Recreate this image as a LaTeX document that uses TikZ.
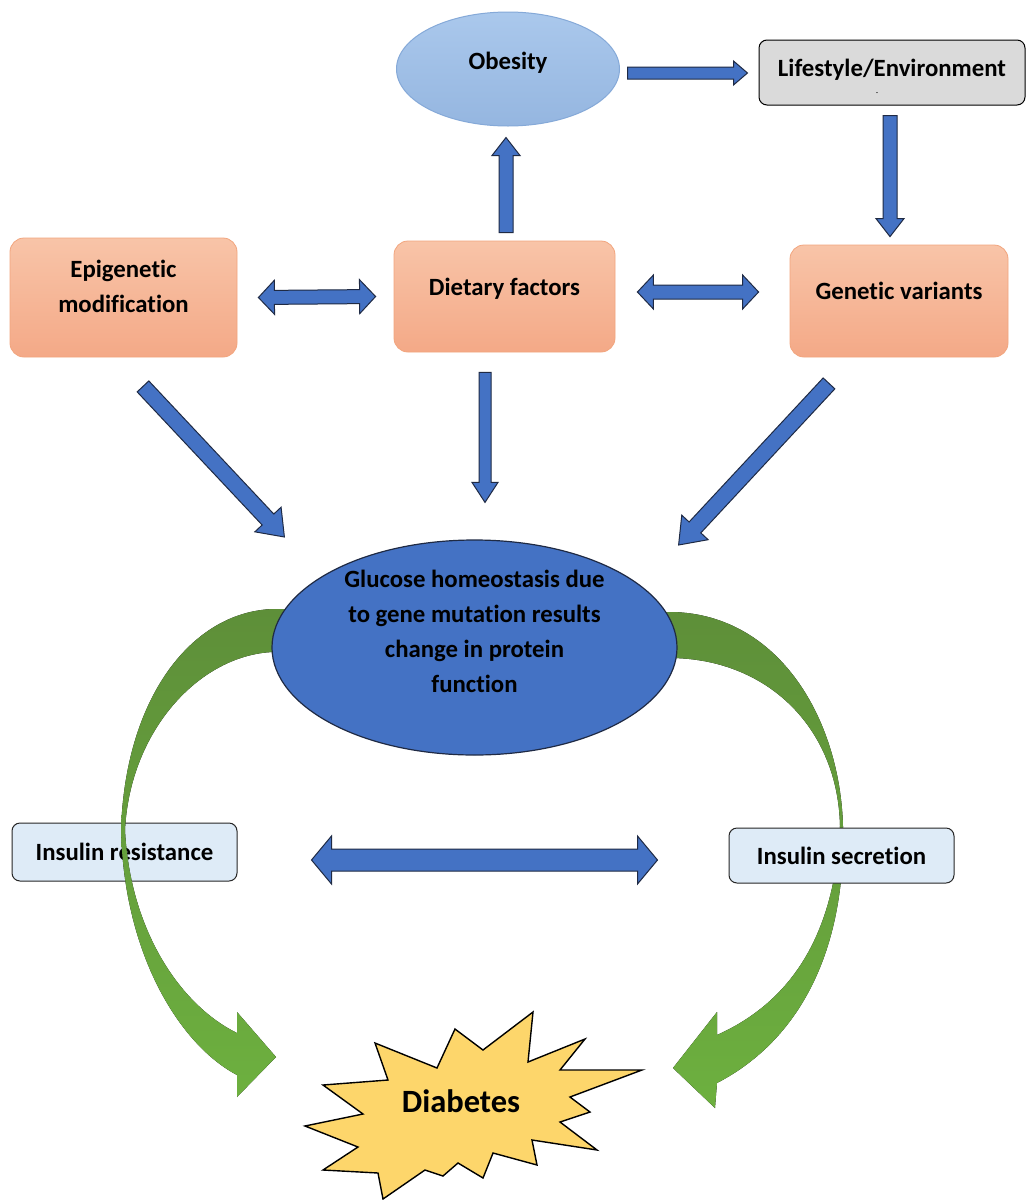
\documentclass[tikz,border=0pt]{standalone}
\usepackage{fontspec}
\setmainfont{Carlito}[Ligatures=NoCommon]
\usetikzlibrary{calc, shapes.geometric}
\definecolor{arblue}{HTML}{4472C4}
\definecolor{arline}{HTML}{1F2A44}
\definecolor{obtop}{HTML}{AAC8EC}
\definecolor{obbot}{HTML}{95B6E0}
\definecolor{obline}{HTML}{85A9D8}
\definecolor{lifefill}{HTML}{DADADA}
\definecolor{salmontop}{HTML}{F8C4A8}
\definecolor{salmonbot}{HTML}{F4A987}
\definecolor{salmonline}{HTML}{F2A57E}
\definecolor{insfill}{HTML}{DEEBF7}
\definecolor{greentop}{HTML}{5E8F39}
\definecolor{greenbot}{HTML}{6DB03F}
\definecolor{starfill}{HTML}{FDD66B}
\pgfdeclarelayer{bg}
\pgfsetlayers{bg,main}

\newcommand{\liftup}[2]{\raisebox{0pt}[\dimexpr\height-#1\relax][\dimexpr\depth+#1\relax]{\begin{tabular}{@{}c@{}}#2\end{tabular}}}

\newcommand{\blockar}[5]{%
  \coordinate (ba0) at #1; \coordinate (ba1) at #2;
  \coordinate (bah) at ($(ba1)!#5!(ba0)$);
  \filldraw[bluear] ($(ba0)!#3!90:(ba1)$) -- ($(bah)!#3!90:(ba1)$) -- ($(bah)!#4!90:(ba1)$) -- (ba1)
    -- ($(bah)!#4!-90:(ba1)$) -- ($(bah)!#3!-90:(ba1)$) -- ($(ba0)!#3!-90:(ba1)$) -- cycle;}

\newcommand{\dblar}[5]{%
  \coordinate (ba0) at #1; \coordinate (ba1) at #2;
  \coordinate (bh0) at ($(ba0)!#5!(ba1)$); \coordinate (bh1) at ($(ba1)!#5!(ba0)$);
  \filldraw[bluear] (ba0) -- ($(bh0)!#4!90:(ba1)$) -- ($(bh0)!#3!90:(ba1)$) -- ($(bh1)!#3!-90:(ba0)$)
    -- ($(bh1)!#4!-90:(ba0)$) -- (ba1) -- ($(bh1)!#4!90:(ba0)$) -- ($(bh1)!#3!90:(ba0)$)
    -- ($(bh0)!#3!-90:(ba1)$) -- ($(bh0)!#4!-90:(ba1)$) -- cycle;}

\begin{document}
\begin{tikzpicture}[x=1pt, y=-1pt,
    font=\bfseries\fontsize{24.8}{35}\selectfont,
    bluear/.style={fill=arblue, draw=arline, line width=1pt, line join=miter},
    factor/.style={draw=salmonline, line width=0.8pt, top color=salmontop, bottom color=salmonbot, rounded corners=14pt, inner sep=0pt},
    insbox/.style={draw=black!85, line width=1pt, fill=insfill, rounded corners=8pt, inner sep=0pt, minimum width=225pt},
    greenar/.style={top color=greentop, bottom color=greenbot, draw=none},
    burst/.style={fill=starfill, draw=black, line width=1.4pt, line join=miter}
  ]
    \useasboundingbox (0,0) rectangle (1026,1200);
    \node[ellipse, draw=obline, line width=1pt, top color=obtop, bottom color=obbot, minimum width=223pt, minimum height=114pt, inner sep=0pt] (ob) at (508,69) {\liftup{7pt}{Obesity}};
    \node[draw=black, line width=1pt, fill=lifefill, rounded corners=8pt, minimum width=266pt, minimum height=65pt, inner sep=0pt] (life) at (892,72.5) {\liftup{3pt}{Lifestyle/Environment}};
    \node[font=\fontsize{8}{8}\selectfont, inner sep=0pt] (lifedash) at ($(life.center)+(-15,22)$) {-};
    \node[factor, minimum width=227pt, minimum height=119pt] (epi) at (123.5,297.5) {\liftup{10pt}{Epigenetic\\modification}};
    \node[factor, minimum width=221pt, minimum height=111pt] (diet) at (504.5,296.5) {\liftup{8pt}{Dietary factors}};
    \node[factor, minimum width=218pt, minimum height=112pt] (gen) at (899,301) {\liftup{9pt}{Genetic variants}};
    \node[ellipse, fill=arblue, draw=arline, line width=1.2pt, minimum width=405pt, minimum height=215pt, inner sep=0pt] (glu) at (474.5,647.5) {\liftup{15pt}{Glucose homeostasis due\\to gene mutation results\\change in protein\\function}};
    \node[insbox, minimum height=55pt] (isec) at (841.5,855.5) {Insulin secretion};
    \begin{pgfonlayer}{bg}
      \fill[white] (0,0) rectangle (1026,1200);
      \node[insbox, minimum height=58pt] (ires) at (124.5,852) {Insulin resistance};
      \fill[greenar] (285,609) -- (273,609) .. controls (190,612) and (125,700) .. (121,830)
        .. controls (124,955) and (180,1045) .. (237,1075) -- (237,1097) -- (276,1057) -- (237,1012) -- (237,1033)
        .. controls (180,1005) and (130,930) .. (125,830) .. controls (130,730) and (200,655) .. (273,652) -- (285,652) -- cycle;
      \fill[greenar] (663,612) -- (673,612) .. controls (780,615) and (840,720) .. (843,826)
        .. controls (846,950) and (800,1040) .. (717,1083) -- (715,1108) -- (673,1068) -- (717,1012) -- (717,1035)
        .. controls (795,1000) and (835,930) .. (840,826) .. controls (838,730) and (770,660) .. (673,658) -- (663,658) -- cycle;
    \end{pgfonlayer}
    \blockar{($(ob.east)+(7.5,4)$)}{($(life.west)+(-11,0.5)$)}{6pt}{12pt}{14pt}
    \blockar{($(life.south)+(-2,10)$)}{($(gen.north)+(-9,-8)$)}{7pt}{14pt}{18pt}
    \blockar{($(diet.north)+(1.5,-8)$)}{($(ob.south)+(-2,11)$)}{7pt}{14pt}{18pt}
    \dblar{($(epi.east)+(21,0)$)}{($(diet.west)+(-18,0)$)}{7pt}{17pt}{16pt}
    \dblar{($(diet.east)+(22,-4.5)$)}{($(gen.west)+(-31,-9)$)}{7pt}{17pt}{16pt}
    \blockar{($(epi.south)+(19.5,29)$)}{($(glu.west)+(13,-110.5)$)}{8pt}{18pt}{24pt}
    \blockar{($(diet.south)+(-19.5,20)$)}{($(glu.north)+(10.5,-37)$)}{6pt}{13pt}{20pt}
    \blockar{($(gen.south)+(-70,26)$)}{($(glu.east)+(1,-102.5)$)}{8pt}{18pt}{24pt}
    \dblar{($(ires.east)+(74,8)$)}{($(isec.west)+(-71,4.5)$)}{11pt}{24pt}{20pt}
    \draw[burst] (305,1126) -- (363,1114) -- (323,1085) -- (388,1080) -- (375,1043) -- (437,1068) -- (455,1029)
      -- (483,1050) -- (533,1012) -- (528,1062) -- (585,1039) -- (560,1070) -- (642,1070) -- (570,1097)
      -- (590,1112) -- (560,1122) -- (597,1150) -- (532,1140) -- (537,1165) -- (493,1153) -- (483,1178)
      -- (458,1163) -- (443,1176) -- (425,1170) -- (383,1199) -- (378,1173) -- (323,1170) -- (358,1147) -- cycle;
    \node[font=\bfseries\fontsize{32.5}{38}\selectfont] (dia) at (461,1101) {Diabetes};
  \end{tikzpicture}
\end{document}
